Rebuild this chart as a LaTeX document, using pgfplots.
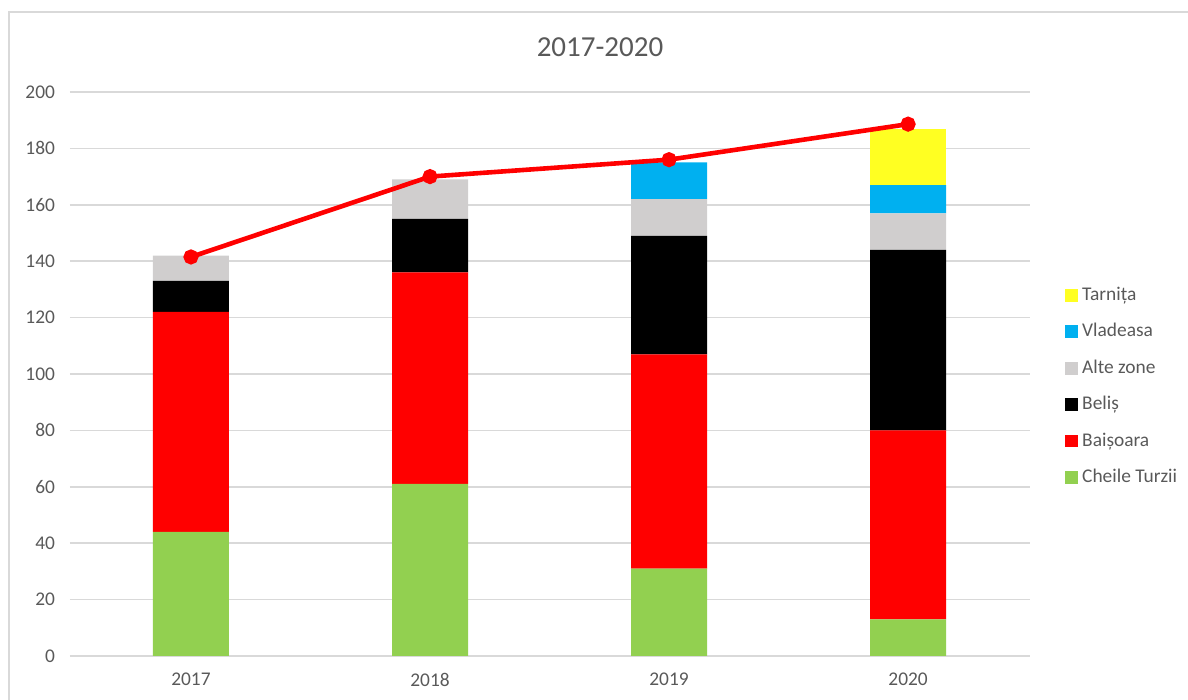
\documentclass[border=0pt]{standalone}
\usepackage{pgfplots}
\pgfplotsset{compat=1.18}
\usepackage{fontspec}
\setmainfont{Carlito}
\definecolor{cgreen}{HTML}{92D050}
\definecolor{cred}{HTML}{FF0000}
\definecolor{cgray}{HTML}{D0CECE}
\definecolor{cblue}{HTML}{00B0F0}
\definecolor{cyellow}{HTML}{FFFF22}
\definecolor{txt}{HTML}{595959}
\definecolor{cgrid}{HTML}{D9D9D9}
\begin{document}
\begin{tikzpicture}[x=1pt,y=1pt]
\useasboundingbox (0,0) rectangle (594,350);
\draw[cgrid, line width=0.8pt] (4.5,0) -- (4.5,344) -- (594,344);
\node[txt, font=\fontsize{14.5}{17}\selectfont] at (300,326.5) {2017-2020};
\begin{axis}[
  at={(35pt,22pt)}, anchor=south west,
  scale only axis, width=480pt, height=282pt,
  ybar stacked, bar width=38pt,
  xmin=-0.506, xmax=3.51, ymin=0, ymax=200,
  xtick={0,1,2,3}, xticklabels={2017,2018,2019,2020},
  ytick={0,20,...,200},
  ymajorgrids, xmajorgrids=false,
  major grid style={draw=cgrid, line width=0.8pt},
  axis x line*=bottom, axis y line*=left,
  x axis line style={draw=cgrid, line width=0.8pt},
  y axis line style={draw=none},
  major tick length=0pt,
  tick label style={txt, font=\fontsize{9.7}{11}\selectfont},
  yticklabel style={xshift=-4pt},
  xticklabel style={yshift=-5pt},
  /pgf/number format/assume math mode=true,
  legend style={at={(1.03,0.478)}, anchor=west, draw=none, fill=none,
    font=\fontsize{9.7}{11}\selectfont, text=txt, row sep=6pt,
    /tikz/every even column/.append style={column sep=2pt}},
  legend cell align=left, reverse legend,
  legend image code/.code={\fill[#1] (0pt,-3.2pt) rectangle (6.5pt,3.2pt);},
]
\addplot[fill=cgreen, draw=none] coordinates {(0,44) (1,61) (2,31) (3,13)};
\addlegendentry{Cheile Turzii}
\addplot[fill=cred, draw=none] coordinates {(0,78) (1,75) (2,76) (3,67)};
\addlegendentry{Baișoara}
\addplot[fill=black, draw=none] coordinates {(0,11) (1,19) (2,42) (3,64)};
\addlegendentry{Beliș}
\addplot[fill=cgray, draw=none] coordinates {(0,9) (1,14) (2,13) (3,13)};
\addlegendentry{Alte zone}
\addplot[fill=cblue, draw=none] coordinates {(0,0) (1,0) (2,13) (3,10)};
\addlegendentry{Vladeasa}
\addplot[fill=cyellow, draw=none] coordinates {(0,0) (1,0) (2,0) (3,20)};
\addlegendentry{Tarnița}
\end{axis}
\begin{axis}[
  at={(35pt,22pt)}, anchor=south west,
  scale only axis, width=480pt, height=282pt,
  xmin=-0.506, xmax=3.51, ymin=0, ymax=200,
  axis lines=none, ticks=none,
]
\addplot[cred, line width=2.3pt, mark=*, mark size=2.6pt, mark options={fill=cred, draw=cred}]
  coordinates {(0,141.5) (1,170) (2,176) (3,188.6)};
\end{axis}
\end{tikzpicture}
\end{document}
